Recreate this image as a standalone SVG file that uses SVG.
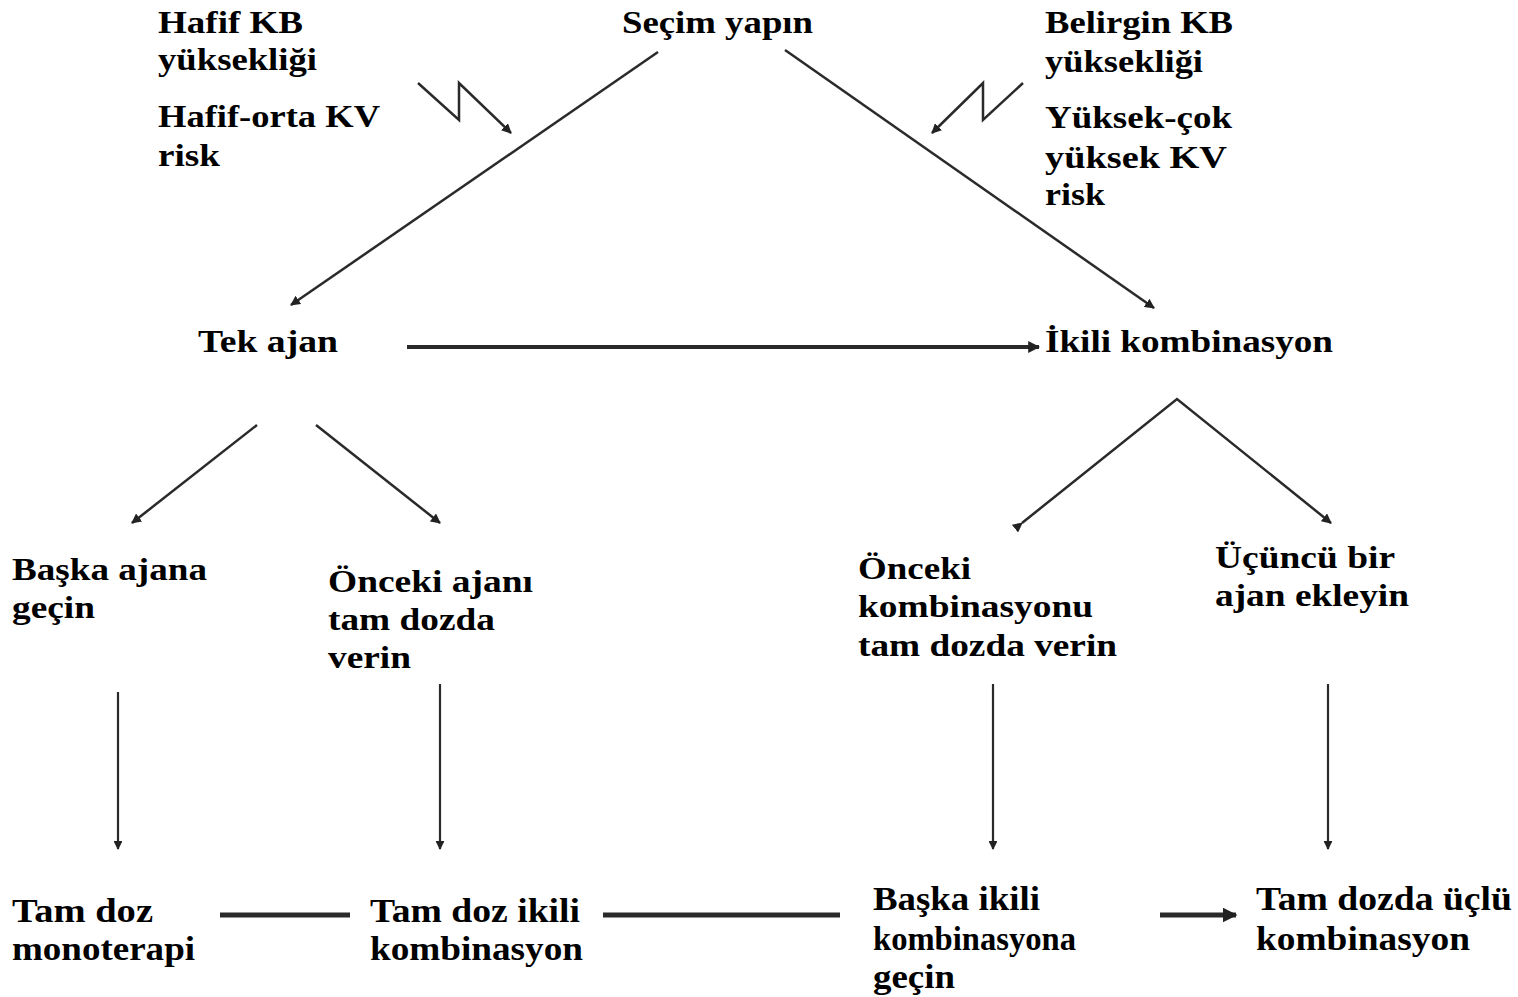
<svg xmlns="http://www.w3.org/2000/svg" width="1518" height="997" viewBox="0 0 1518 997">
<defs>
<marker id="ah" viewBox="0 0 10 10" refX="9" refY="5" markerWidth="4" markerHeight="4" orient="auto" markerUnits="strokeWidth">
<path d="M0,0 L10,5 L0,10 z" fill="#222"/>
</marker>
<marker id="ahs" viewBox="0 0 10 10" refX="9" refY="5" markerWidth="3" markerHeight="3" orient="auto" markerUnits="strokeWidth">
<path d="M0,0 L10,5 L0,10 z" fill="#222"/>
</marker>
</defs>
<style>
text{font-family:"Liberation Serif","Times New Roman",serif;font-weight:bold;font-size:32px;fill:#000}
.big{font-size:34px}
.c{fill:none;stroke:#2a2a2a;stroke-width:2.5}
.v{fill:none;stroke:#2a2a2a;stroke-width:2.2}
.h{fill:none;stroke:#2a2a2a;stroke-width:4}
.b{fill:none;stroke:#2a2a2a;stroke-width:5}
</style>
<rect width="1518" height="997" fill="#fff"/>
<g id="connectors">
<line class="c" x1="658" y1="52" x2="291" y2="305" marker-end="url(#ah)"/>
<line class="c" x1="785" y1="50" x2="1154" y2="308" marker-end="url(#ah)"/>
<polyline class="c" points="418,83 459,120 459,83 511,133" marker-end="url(#ah)"/>
<polyline class="c" points="1023,83 983,120 983,83 932,133" marker-end="url(#ah)"/>
<line class="h" x1="407" y1="347" x2="1039" y2="347" marker-end="url(#ahs)"/>
<line class="c" x1="257" y1="425" x2="132" y2="523" marker-end="url(#ah)"/>
<line class="c" x1="316" y1="425" x2="440" y2="523" marker-end="url(#ah)"/>
<polyline class="c" points="1022,523 1177,399 1331,523" marker-start="url(#ah)" marker-end="url(#ah)"/>
<line class="v" x1="118" y1="692" x2="118" y2="849" marker-end="url(#ah)"/>
<line class="v" x1="440" y1="684" x2="440" y2="849" marker-end="url(#ah)"/>
<line class="v" x1="993" y1="684" x2="993" y2="849" marker-end="url(#ah)"/>
<line class="v" x1="1328" y1="684" x2="1328" y2="849" marker-end="url(#ah)"/>
<line class="b" x1="220" y1="915" x2="350" y2="915"/>
<line class="b" x1="603" y1="915" x2="840" y2="915"/>
<line class="b" x1="1160" y1="915" x2="1236" y2="915" marker-end="url(#ahs)"/>
</g>
<g id="node-hafif">
<text x="158" y="33" textLength="145" lengthAdjust="spacingAndGlyphs">Hafif KB</text>
<text x="158" y="70" textLength="159" lengthAdjust="spacingAndGlyphs">yüksekliği</text>
<text x="158" y="127" textLength="222" lengthAdjust="spacingAndGlyphs">Hafif-orta KV</text>
<text x="158" y="166" textLength="62" lengthAdjust="spacingAndGlyphs">risk</text>
</g>
<g id="node-secim">
<text x="622" y="33" textLength="191" lengthAdjust="spacingAndGlyphs">Seçim yapın</text>
</g>
<g id="node-belirgin">
<text x="1045" y="33" textLength="188" lengthAdjust="spacingAndGlyphs">Belirgin KB</text>
<text x="1045" y="72" textLength="158" lengthAdjust="spacingAndGlyphs">yüksekliği</text>
<text x="1045" y="128" textLength="187" lengthAdjust="spacingAndGlyphs">Yüksek-çok</text>
<text x="1045" y="168" textLength="182" lengthAdjust="spacingAndGlyphs">yüksek KV</text>
<text x="1045" y="205" textLength="60" lengthAdjust="spacingAndGlyphs">risk</text>
</g>
<g id="node-tek">
<text x="198" y="352" textLength="140" lengthAdjust="spacingAndGlyphs">Tek ajan</text>
</g>
<g id="node-ikili">
<text x="1045" y="352" textLength="288" lengthAdjust="spacingAndGlyphs">İkili kombinasyon</text>
</g>
<g id="node-baska-ajan">
<text x="12" y="580" textLength="195" lengthAdjust="spacingAndGlyphs">Başka ajana</text>
<text x="12" y="618" textLength="83" lengthAdjust="spacingAndGlyphs">geçin</text>
</g>
<g id="node-onceki-ajan">
<text x="328" y="592" textLength="205" lengthAdjust="spacingAndGlyphs">Önceki ajanı</text>
<text x="328" y="630" textLength="167" lengthAdjust="spacingAndGlyphs">tam dozda</text>
<text x="328" y="668" textLength="83" lengthAdjust="spacingAndGlyphs">verin</text>
</g>
<g id="node-onceki-komb">
<text x="858" y="579" textLength="113" lengthAdjust="spacingAndGlyphs">Önceki</text>
<text x="858" y="617" textLength="235" lengthAdjust="spacingAndGlyphs">kombinasyonu</text>
<text x="858" y="656" textLength="259" lengthAdjust="spacingAndGlyphs">tam dozda verin</text>
</g>
<g id="node-ucuncu">
<text x="1215" y="568" textLength="180" lengthAdjust="spacingAndGlyphs">Üçüncü bir</text>
<text x="1215" y="606" textLength="194" lengthAdjust="spacingAndGlyphs">ajan ekleyin</text>
</g>
<g id="node-tam-mono">
<text class="big" x="12" y="922" textLength="141" lengthAdjust="spacingAndGlyphs">Tam doz</text>
<text class="big" x="12" y="960" textLength="183" lengthAdjust="spacingAndGlyphs">monoterapi</text>
</g>
<g id="node-tam-ikili">
<text class="big" x="370" y="922" textLength="210" lengthAdjust="spacingAndGlyphs">Tam doz ikili</text>
<text class="big" x="370" y="960" textLength="213" lengthAdjust="spacingAndGlyphs">kombinasyon</text>
</g>
<g id="node-baska-ikili">
<text class="big" x="873" y="910" textLength="167" lengthAdjust="spacingAndGlyphs">Başka ikili</text>
<text class="big" x="873" y="950" textLength="203" lengthAdjust="spacingAndGlyphs">kombinasyona</text>
<text class="big" x="873" y="988" textLength="82" lengthAdjust="spacingAndGlyphs">geçin</text>
</g>
<g id="node-uclu">
<text class="big" x="1256" y="910" textLength="256" lengthAdjust="spacingAndGlyphs">Tam dozda üçlü</text>
<text class="big" x="1256" y="950" textLength="214" lengthAdjust="spacingAndGlyphs">kombinasyon</text>
</g>
</svg>
